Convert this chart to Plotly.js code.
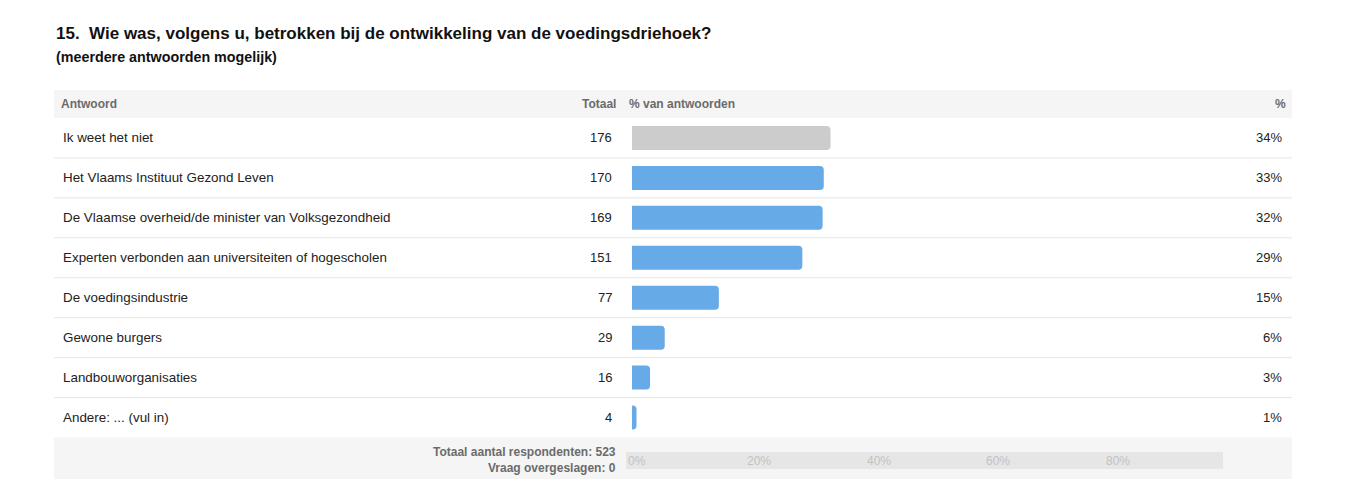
<!DOCTYPE html>
<html>
<head>
<meta charset="utf-8">
<script src="https://cdn.plot.ly/plotly-3.0.1.min.js"></script>
<style>
html,body{margin:0;padding:0;background:#fff;}
#chart{width:1355px;height:479px;}
</style>
</head>
<body>
<div id="chart"></div>
<script>
// ---- data ----
const titleText = "15.  Wie was, volgens u, betrokken bij de ontwikkeling van de voedingsdriehoek?";
const subtitleText = "(meerdere antwoorden mogelijk)";
const categories = [
  "Ik weet het niet",
  "Het Vlaams Instituut Gezond Leven",
  "De Vlaamse overheid/de minister van Volksgezondheid",
  "Experten verbonden aan universiteiten of hogescholen",
  "De voedingsindustrie",
  "Gewone burgers",
  "Landbouworganisaties",
  "Andere: ... (vul in)"
];
const totals = [176, 170, 169, 151, 77, 29, 16, 4];
const percentLabels = ["34%", "33%", "32%", "29%", "15%", "6%", "3%", "1%"];
const respondents = 523;
const skipped = 0;
const axisTickValues = [0, 20, 40, 60, 80];
const axisTickLabels = ["0%", "20%", "40%", "60%", "80%"];
const headers = {answer: "Antwoord", total: "Totaal", pctOf: "% van antwoorden", pct: "%"};

// ---- layout helpers ----
const W = 1355, H = 479;
const px = x => x / W;
const py = y => 1 - y / H;
const FONT = "Liberation Sans, Arial, sans-serif";

const barValues = totals.map(t => t / respondents * 100);
const barColors = categories.map((c, i) => i === 0 ? "#cccccc" : "#66aae8");

const rowTop = 118, rowBottom = 437.5;

const shapes = [];
// header background
shapes.push({type: "rect", xref: "paper", yref: "paper", x0: px(54), x1: px(1292), y0: py(118), y1: py(90),
  fillcolor: "#f5f5f5", line: {width: 0}, layer: "below"});
// footer background
shapes.push({type: "rect", xref: "paper", yref: "paper", x0: px(54), x1: px(1292), y0: 0, y1: py(437.5),
  fillcolor: "#f5f5f5", line: {width: 0}, layer: "below"});
// row separators
for (let i = 0; i < categories.length - 1; i++) {
  shapes.push({type: "line", xref: "paper", yref: "y", x0: px(54), x1: px(1292), y0: i + 0.5, y1: i + 0.5,
    line: {color: "#e6e6e6", width: 1}, layer: "below"});
}
// footer axis strip
shapes.push({type: "rect", xref: "x2", yref: "paper", x0: 0, x1: 100, y0: py(469), y1: py(452),
  fillcolor: "#e6e6e6", line: {width: 0}, layer: "below"});

const annotations = [];
annotations.push({xref: "paper", yref: "paper", x: px(54), y: py(33), xanchor: "left", yanchor: "middle",
  text: "<b>" + titleText + "</b>", showarrow: false, font: {family: FONT, size: 17, color: "#111"}});
annotations.push({xref: "paper", yref: "paper", x: px(54), y: py(57), xanchor: "left", yanchor: "middle",
  text: "<b>" + subtitleText + "</b>", showarrow: false, font: {family: FONT, size: 14.3, color: "#111"}});
// headers
const hdrFont = {family: FONT, size: 12, color: "#6b6b6b"};
annotations.push({xref: "paper", yref: "paper", x: px(59), y: py(103.5), xanchor: "left", yanchor: "middle",
  text: "<b>" + headers.answer + "</b>", showarrow: false, font: hdrFont});
annotations.push({xref: "paper", yref: "paper", x: px(618), y: py(103.5), xanchor: "right", yanchor: "middle",
  text: "<b>" + headers.total + "</b>", showarrow: false, font: hdrFont});
annotations.push({xref: "paper", yref: "paper", x: px(627), y: py(103.5), xanchor: "left", yanchor: "middle",
  text: "<b>" + headers.pctOf + "</b>", showarrow: false, font: hdrFont});
annotations.push({xref: "paper", yref: "paper", x: px(1288), y: py(103.5), xanchor: "right", yanchor: "middle",
  text: "<b>" + headers.pct + "</b>", showarrow: false, font: hdrFont});
// rows
const rowFont = {family: FONT, size: 13.4, color: "#222"};
const numFont = {family: FONT, size: 13, color: "#222"};
categories.forEach((c, i) => {
  annotations.push({xref: "paper", yref: "y", x: px(61), y: i, xanchor: "left", yanchor: "middle",
    text: c, showarrow: false, font: rowFont});
  annotations.push({xref: "paper", yref: "y", x: px(614), y: i, xanchor: "right", yanchor: "middle",
    text: String(totals[i]), showarrow: false, font: numFont});
  annotations.push({xref: "paper", yref: "y", x: px(1284), y: i, xanchor: "right", yanchor: "middle",
    text: percentLabels[i], showarrow: false, font: numFont});
});
// footer texts
const ftFont = {family: FONT, size: 12, color: "#6b6b6b"};
annotations.push({xref: "paper", yref: "paper", x: px(618), y: py(452), xanchor: "right", yanchor: "middle",
  text: "<b>Totaal aantal respondenten: " + respondents + "</b>", showarrow: false, font: ftFont});
annotations.push({xref: "paper", yref: "paper", x: px(618), y: py(468), xanchor: "right", yanchor: "middle",
  text: "<b>Vraag overgeslagen: " + skipped + "</b>", showarrow: false, font: ftFont});
// footer axis tick labels
axisTickValues.forEach((v, i) => {
  annotations.push({xref: "x2", yref: "paper", x: v, y: py(460.5), xanchor: "left", yanchor: "middle",
    text: axisTickLabels[i], showarrow: false, font: {family: FONT, size: 12, color: "#c2c2c2"}});
});

const trace = {
  type: "bar",
  orientation: "h",
  x: barValues,
  y: categories.map((c, i) => i),
  marker: {color: barColors, line: {width: 0}},
  width: 0.6,
  hoverinfo: "none",
  xaxis: "x",
  yaxis: "y"
};

const layout = {
  width: W, height: H,
  margin: {l: 0, r: 0, t: 0, b: 0, pad: 0},
  paper_bgcolor: "#ffffff",
  plot_bgcolor: "rgba(0,0,0,0)",
  showlegend: false,
  barcornerradius: 4,
  xaxis: {domain: [px(632), px(1222)], range: [0, 100], visible: false, fixedrange: true},
  xaxis2: {domain: [px(626), px(1223)], range: [0, 100], visible: false, anchor: "y", fixedrange: true},
  yaxis: {domain: [py(rowBottom), py(rowTop)], range: [7.5, -0.5], visible: false, fixedrange: true},
  shapes: shapes,
  annotations: annotations
};

Plotly.newPlot("chart", [trace], layout, {displayModeBar: false, staticPlot: true});
</script>
</body>
</html>
